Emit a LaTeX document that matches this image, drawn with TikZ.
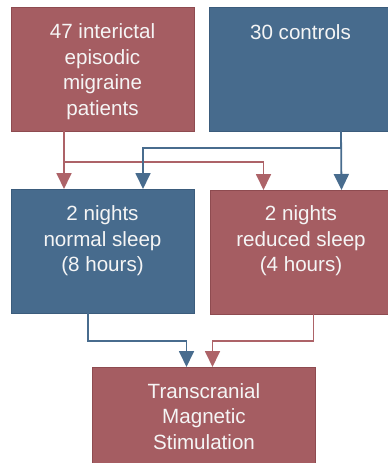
\documentclass[tikz,border=0pt]{standalone}
\usepackage{fontspec}
\setmainfont{Liberation Sans}
\usetikzlibrary{arrows.meta}
\definecolor{boxred}{HTML}{A55D62}
\definecolor{boxredline}{HTML}{8E4B50}
\definecolor{boxblue}{HTML}{476B8D}
\definecolor{boxblueline}{HTML}{3B5C7C}
\definecolor{linkred}{HTML}{AD6368}
\definecolor{linkblue}{HTML}{486C8E}
\tikzset{
  panel/.style={draw, line width=1pt, minimum width=183pt, minimum height=124pt, inner sep=0pt, outer sep=0pt, anchor=north west},
  redpanel/.style={panel, fill=boxred, draw=boxredline},
  bluepanel/.style={panel, fill=boxblue, draw=boxblueline},
  caption/.style={text=white!92!gray, align=center, inner sep=0pt, anchor=north, font=\fontsize{20.6}{25.5}\selectfont},
  redlink/.style={draw=linkred, line width=1.8pt, -{Triangle[width=15pt,length=16pt]}},
  bluelink/.style={draw=linkblue, line width=1.8pt, -{Triangle[width=15pt,length=16pt]}},
}
\begin{document}
\begin{tikzpicture}[x=1pt,y=-1pt]
\useasboundingbox (0,0) rectangle (388,463);
\begin{scope}
\clip (0,0) rectangle (388,463);
\node[redpanel] (A) at (11,7) {};
\node[bluepanel] (B) at (209,7) {};
\node[bluepanel] (C) at (11,189) {};
\node[redpanel] (D) at (210,190) {};
\node[redpanel, minimum width=223pt, minimum height=110pt] (E) at (92,367) {};

\node[caption] (tA) at (102.5,23.4) {47 interictal\\episodic\\migraine\\patients};
\node[caption] (tB) at (300.5,24.6) {30 controls};
\node[caption] (tC) at (102.5,205.6) {2 nights\\normal sleep\\(8 hours)};
\node[caption] (tD) at (301,205.6) {2 nights\\reduced sleep\\(4 hours)};
\node[caption] (tE) at (204,383.2) {Transcranial\\Magnetic\\Stimulation};

% migraine patients -> both sleep conditions
\draw[redlink] ([xshift=-38.5pt]A.south) -- ([xshift=-38.5pt]C.north);
\draw[redlink] ([xshift=-38.5pt]A.south) -- ++(0,31) -| ([xshift=-38pt]D.north);
% controls -> both sleep conditions
\draw[bluelink] ([xshift=40.5pt]B.south) -- ([xshift=40pt]D.north);
\draw[bluelink] ([xshift=40.5pt]B.south) -- ++(0,17) -| ([xshift=40.5pt]C.north);
% sleep conditions -> TMS
\draw[bluelink] ([xshift=-14.5pt]C.south) -- ++(0,28) -| ([xshift=-17pt]E.north);
\draw[redlink] ([xshift=12pt]D.south) -- ++(0,27) -| ([xshift=9pt]E.north);
\end{scope}
\end{tikzpicture}
\end{document}
